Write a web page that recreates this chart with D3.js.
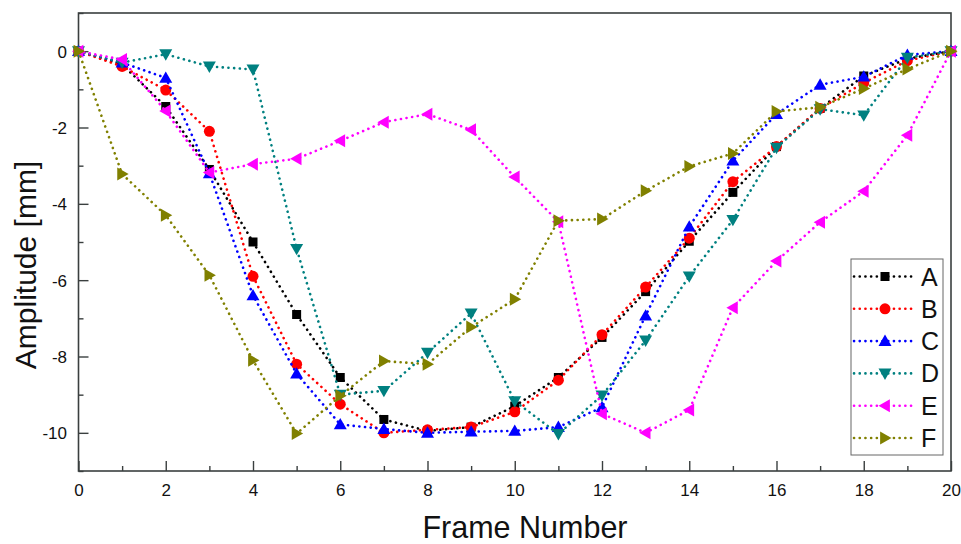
<!DOCTYPE html>
<html><head><meta charset="utf-8">
<script src="https://cdn.jsdelivr.net/npm/d3@7"></script>
<style>body{margin:0;background:#fff}svg{display:block}text{font-family:Arial,"Liberation Sans",sans-serif}</style>
</head><body><svg id="c" width="961" height="544"></svg>
<script>
const frames = d3.range(0, 21);
const seriesNames = ["A","B","C","D","E","F"];
const seriesColors = ["#000000","#ff0000","#0000ff","#008080","#ff00ff","#808000"];
const seriesShapes = ["square","circle","up","down","left","right"];
const A = [0,-0.35,-1.45,-3.1,-5.0,-6.9,-8.55,-9.65,-9.95,-9.85,-9.3,-8.55,-7.5,-6.3,-4.98,-3.7,-2.5,-1.5,-0.65,-0.2,0];
const B = [0,-0.4,-1.02,-2.1,-5.9,-8.2,-9.25,-10.0,-9.92,-9.85,-9.45,-8.62,-7.43,-6.18,-4.9,-3.42,-2.5,-1.5,-0.83,-0.25,0];
const C = [0,-0.3,-0.7,-3.2,-6.4,-8.45,-9.78,-9.9,-10.0,-9.97,-9.95,-9.85,-9.33,-6.93,-4.6,-2.87,-1.65,-0.88,-0.67,-0.1,0];
const D = [0,-0.3,-0.08,-0.4,-0.48,-5.18,-9.0,-8.9,-7.9,-6.87,-9.17,-10.03,-9.02,-7.58,-5.9,-4.42,-2.53,-1.52,-1.68,-0.17,0];
const E = [0,-0.22,-1.57,-3.18,-2.96,-2.82,-2.35,-1.86,-1.65,-2.06,-3.3,-4.47,-9.5,-10.0,-9.4,-6.72,-5.5,-4.48,-3.67,-2.2,0];
const F = [0,-3.22,-4.3,-5.87,-8.1,-10.02,-9.03,-8.12,-8.2,-7.23,-6.5,-4.44,-4.4,-3.66,-3.02,-2.68,-1.58,-1.47,-0.98,-0.47,0];
const seriesValues = [A,B,C,D,E,F];
const xTicks = d3.range(0, 21, 2);
const yTicks = [0,-2,-4,-6,-8,-10];

const svg = d3.select("#c");
const L = 78.5, R = 951, T = 13, Bm = 471;
const x = d3.scaleLinear().domain([0,20]).range([L,R]);
const y = d3.scaleLinear().domain([-11,1]).range([Bm,T]);

// frame
svg.append("rect").attr("x",L).attr("y",T).attr("width",R-L).attr("height",Bm-T)
  .attr("fill","none").attr("stroke","#3a3f3f").attr("stroke-width",1.6);

// axes with inward ticks
const gx = svg.append("g").attr("transform",`translate(0,${Bm})`)
  .call(d3.axisBottom(x).tickValues(xTicks).tickSize(-10).tickPadding(13).tickFormat(d3.format("d")));
const gxm = svg.append("g").attr("transform",`translate(0,${Bm})`)
  .call(d3.axisBottom(x).tickValues(d3.range(1,20,2)).tickSize(-5).tickFormat(""));
const gy = svg.append("g").attr("transform",`translate(${L},0)`)
  .call(d3.axisLeft(y).tickValues(yTicks).tickSize(-10).tickPadding(11.5).tickFormat(d=>d===0?"0":String(d).replace("−","-")));
const gym = svg.append("g").attr("transform",`translate(${L},0)`)
  .call(d3.axisLeft(y).tickValues([1,-1,-3,-5,-7,-9,-11]).tickSize(-5).tickFormat(""));
[gx,gxm,gy,gym].forEach(g=>{
  g.select(".domain").remove();
  g.selectAll(".tick line").attr("stroke","#3a3f3f").attr("stroke-width",1.4);
  g.selectAll("text").attr("fill","#111").attr("font-size",17);
});
gy.selectAll("text").attr("dy","0.35em");

// axis titles
svg.append("text").attr("x",525).attr("y",538).attr("text-anchor","middle")
  .attr("font-size",30.5).attr("fill","#111").text("Frame Number");
svg.append("text").attr("transform",`translate(36,265) rotate(-90)`).attr("text-anchor","middle")
  .attr("font-size",30).attr("fill","#111").text("Amplitude [mm]");

function marker(g, shape, color, cx, cy){
  const s = 6.5;
  let el;
  if(shape==="square") el = g.append("rect").attr("x",cx-4.5).attr("y",cy-4.5).attr("width",9).attr("height",9);
  else if(shape==="circle") el = g.append("circle").attr("cx",cx).attr("cy",cy).attr("r",5.5);
  else {
    let pts;
    if(shape==="up") pts=[[0,-s],[s,s*0.75],[-s,s*0.75]];
    if(shape==="down") pts=[[0,s],[s,-s*0.75],[-s,-s*0.75]];
    if(shape==="left") pts=[[-s,0],[s*0.75,-s],[s*0.75,s]];
    if(shape==="right") pts=[[s,0],[-s*0.75,-s],[-s*0.75,s]];
    el = g.append("polygon").attr("points",pts.map(p=>[cx+p[0],cy+p[1]].join(",")).join(" "));
  }
  el.attr("fill",color);
}

const line = d3.line().x((d,i)=>x(frames[i])).y(d=>y(d));
const plot = svg.append("g");
seriesValues.forEach((vals,k)=>{
  const g = plot.append("g");
  g.append("path").attr("d",line(vals)).attr("fill","none").attr("stroke",seriesColors[k])
    .attr("stroke-width",2.6).attr("stroke-linecap","round").attr("stroke-dasharray","0.1 5.6");
  vals.forEach((v,i)=>marker(g, seriesShapes[k], seriesColors[k], x(frames[i]), y(v)));
});

// legend
const lg = svg.append("g");
lg.append("rect").attr("x",851).attr("y",259).attr("width",92).attr("height",196)
  .attr("fill","#fff").attr("stroke","#666").attr("stroke-width",1);
seriesNames.forEach((n,k)=>{
  const yy = 276.5 + k*32.3;
  lg.append("line").attr("x1",854).attr("x2",915).attr("y1",yy).attr("y2",yy)
    .attr("stroke",seriesColors[k]).attr("stroke-width",2.6).attr("stroke-linecap","round").attr("stroke-dasharray","0.1 5.6");
  marker(lg, seriesShapes[k], seriesColors[k], 885, yy);
  lg.append("text").attr("x",921).attr("y",yy).attr("dy","0.36em").attr("font-size",25).attr("fill","#111").text(n);
});
</script></body></html>
